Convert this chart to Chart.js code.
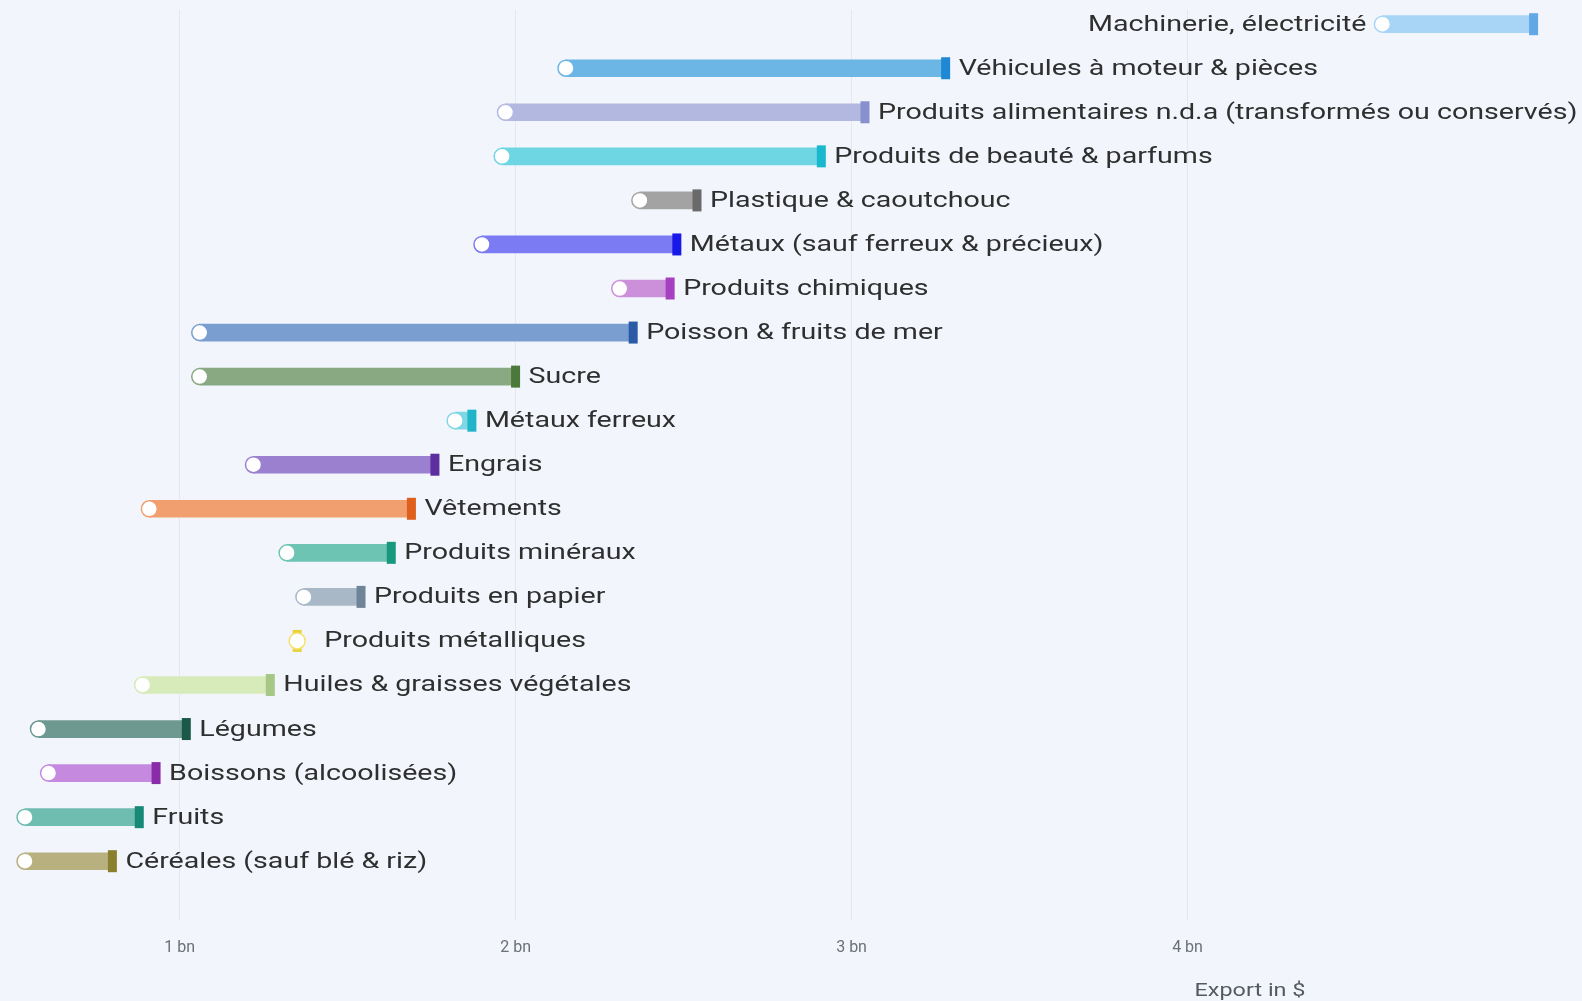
<!DOCTYPE html>
<html>
<head>
<meta charset="utf-8">
<script src="https://cdn.jsdelivr.net/npm/chart.js@4/dist/chart.umd.min.js"></script>
<style>
  html, body { margin: 0; padding: 0; background: #f2f6fc; }
  #wrap { width: 1582px; height: 1001px; position: relative; }
</style>
</head>
<body>
<div id="wrap"><canvas id="exportChart"></canvas></div>
<script>
// export ranges per product group, in billions of $
const categories = [
  'Machinerie, électricité',
  'Véhicules à moteur & pièces',
  'Produits alimentaires n.d.a (transformés ou conservés)',
  'Produits de beauté & parfums',
  'Plastique & caoutchouc',
  'Métaux (sauf ferreux & précieux)',
  'Produits chimiques',
  'Poisson & fruits de mer',
  'Sucre',
  'Métaux ferreux',
  'Engrais',
  'Vêtements',
  'Produits minéraux',
  'Produits en papier',
  'Produits métalliques',
  'Huiles & graisses végétales',
  'Légumes',
  'Boissons (alcoolisées)',
  'Fruits',
  'Céréales (sauf blé & riz)'
];
const startValues = [4.58, 2.15, 1.97, 1.96, 2.37, 1.90, 2.31, 1.06, 1.06, 1.82, 1.22, 0.91, 1.32, 1.37, 1.35, 0.89, 0.58, 0.61, 0.54, 0.54];
const endValues   = [5.03, 3.28, 3.04, 2.91, 2.54, 2.48, 2.46, 2.35, 2.00, 1.87, 1.76, 1.69, 1.63, 1.54, 1.35, 1.27, 1.02, 0.93, 0.88, 0.80];
const barColors = ['#a8d5f6', '#6cb6e6', '#b3b8e0', '#6ed6e2', '#a3a3a3', '#7b7bf4', '#cc90da', '#7a9ed0', '#88a981', '#7fd6e4',
                   '#9c80d0', '#f19f6e', '#6dc4b3', '#a9b8c7', '#f3e36a', '#d7eab9', '#6e9990', '#c58ae0', '#6fbcb0', '#b8b07f'];
const capColors = ['#62a8e6', '#1f88d5', '#8890d0', '#19b8cf', '#6a6a6a', '#1818e8', '#a63fc0', '#2b5aa6', '#4a793b', '#1fb4c8',
                   '#5b2f9f', '#df601c', '#17997f', '#6f8499', '#e8d23a', '#a6c785', '#1a5848', '#8a2ba8', '#178a77', '#8a7f2e'];
const tickValues = [1, 2, 3, 4];

const labelFont = '22px Roboto';
const labelStretch = 1.3;

// dark end cap on each bar, drawn right after the bars so the start dots sit on top
const capPlugin = {
  id: 'caps',
  afterDatasetDraw(chart, args) {
    if (args.index !== 0) return;
    const { ctx, scales: { x, y } } = chart;
    ctx.save();
    categories.forEach((c, i) => {
      const px = x.getPixelForValue(endValues[i]);
      const py = y.getPixelForValue(i);
      ctx.fillStyle = capColors[i];
      ctx.fillRect(px - 4.5, py - 11, 9, 22);
    });
    ctx.restore();
  }
};

// category names beside the bars, plus the axis caption
const labelPlugin = {
  id: 'rowLabels',
  afterDatasetsDraw(chart) {
    const { ctx, chartArea, scales: { x, y } } = chart;
    const drawStretched = (text, px, py, align) => {
      ctx.save();
      ctx.translate(px, py);
      ctx.scale(labelStretch, 1);
      ctx.textAlign = align;
      ctx.fillText(text, 0, 0);
      ctx.restore();
    };
    ctx.save();
    ctx.font = labelFont;
    ctx.fillStyle = '#2f2f2f';
    ctx.textBaseline = 'middle';
    categories.forEach((c, i) => {
      const sx = x.getPixelForValue(startValues[i]);
      const ex = x.getPixelForValue(endValues[i]);
      const py = y.getPixelForValue(i) + 1;
      const w = ctx.measureText(c).width * labelStretch;
      let lx = Math.max(ex, sx + 14) + 13;
      if (lx + w > chartArea.right) lx = sx - 16 - w;
      drawStretched(c, lx, py, 'left');
    });
    ctx.font = '18px Roboto';
    ctx.fillStyle = '#555a60';
    drawStretched('Export in $', 1250, 991, 'center');
    ctx.restore();
  }
};

new Chart(document.getElementById('exportChart'), {
  type: 'bar',
  data: {
    datasets: [{
      data: categories.map((c, i) => ({ y: i, x: [startValues[i], endValues[i]] })),
      backgroundColor: barColors,
      borderWidth: 0,
      barThickness: 17,
      order: 2
    }, {
      type: 'line',
      data: categories.map((c, i) => ({ y: i, x: startValues[i] })),
      showLine: false,
      pointRadius: 8,
      pointBackgroundColor: '#ffffff',
      pointBorderColor: barColors,
      pointBorderWidth: 1.5,
      order: 1
    }]
  },
  options: {
    indexAxis: 'y',
    responsive: true,
    maintainAspectRatio: false,
    animation: false,
    layout: { autoPadding: false, padding: { top: 10, bottom: 24, left: 0, right: 0 } },
    plugins: { legend: { display: false }, tooltip: { enabled: false } },
    scales: {
      x: {
        type: 'linear',
        position: 'bottom',
        min: 0.4655,
        max: 5.174,
        afterBuildTicks(axis) { axis.ticks = tickValues.map(v => ({ value: v })); },
        ticks: {
          font: { family: 'Roboto', size: 16 },
          color: '#6b6f76',
          padding: 19,
          maxRotation: 0,
          callback: v => v + ' bn'
        },
        grid: { color: '#e3e8ef', drawTicks: false },
        border: { display: false }
      },
      y: {
        type: 'linear',
        reverse: true,
        offset: false,
        min: -0.322,
        max: 20.33,
        display: false
      }
    }
  },
  plugins: [capPlugin, labelPlugin]
});
</script>
</body>
</html>
